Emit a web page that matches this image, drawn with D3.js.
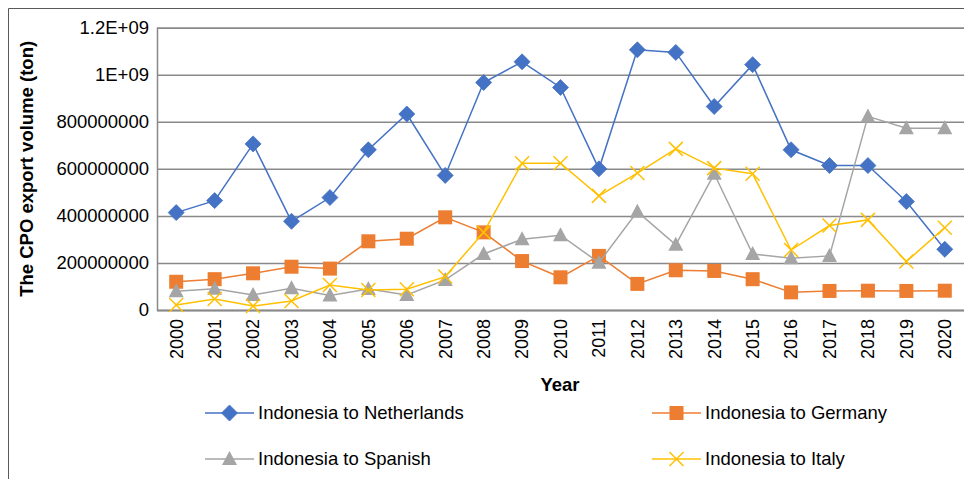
<!DOCTYPE html>
<html>
<head>
<meta charset="utf-8">
<script src="https://cdn.jsdelivr.net/npm/d3@7"></script>
<style>
  html, body { margin: 0; padding: 0; background: #fff; }
  svg { display: block; font-family: "Liberation Sans", Arial, sans-serif; }
</style>
</head>
<body>
<svg id="chart" width="964" height="479"></svg>
<script>
// CPO export volume (ton) from Indonesia, 2000-2020
const years = ["2000","2001","2002","2003","2004","2005","2006","2007","2008","2009","2010",
               "2011","2012","2013","2014","2015","2016","2017","2018","2019","2020"];

const netherlands = [414e6, 465e6, 706e6, 377e6, 478e6, 681e6, 833e6, 572e6, 967e6, 1055e6, 946e6,
                     600e6, 1106e6, 1095e6, 865e6, 1043e6, 681e6, 614e6, 614e6, 461e6, 258e6];
const germany     = [120e6, 131e6, 156e6, 184e6, 176e6, 292e6, 303e6, 394e6, 330e6, 208e6, 139e6,
                     230e6, 111e6, 169e6, 166e6, 131e6, 75e6, 81e6, 82e6, 81e6, 82e6];
const spanish     = [80e6, 90e6, 64e6, 92e6, 62e6, 89e6, 64e6, 128e6, 238e6, 301e6, 318e6,
                     201e6, 418e6, 277e6, 579e6, 238e6, 220e6, 230e6, 823e6, 773e6, 773e6];
const italy       = [21e6, 47e6, 17e6, 38e6, 106e6, 85e6, 88e6, 142e6, 330e6, 624e6, 624e6,
                     485e6, 582e6, 685e6, 603e6, 579e6, 255e6, 359e6, 383e6, 206e6, 350e6];

const yTickValues = [0, 200e6, 400e6, 600e6, 800e6, 1000e6, 1200e6];
const yTickLabels = ["0", "200000000", "400000000", "600000000", "800000000", "1E+09", "1.2E+09"];

const seriesNames  = ["Indonesia to Netherlands", "Indonesia to Germany", "Indonesia to Spanish", "Indonesia to Italy"];
const seriesColors = ["#4472C4", "#ED7D31", "#A5A5A5", "#FFC000"];
const seriesShapes = ["diamond", "square", "triangle", "cross"];
const seriesValues = [netherlands, germany, spanish, italy];

const svg = d3.select("#chart");
const plot = { left: 157, right: 964, top: 27.7, bottom: 310 };

const x = d3.scaleBand().domain(years).range([plot.left, plot.right]);
const y = d3.scaleLinear().domain([0, 1.2e9]).range([plot.bottom, plot.top]);

// outer frame
svg.append("path")
  .attr("d", "M8.5,479V8.5H964")
  .attr("fill", "none").attr("stroke", "#595959").attr("stroke-width", 1);

// horizontal gridlines + y labels
const yAxis = d3.axisLeft(y)
  .tickValues(yTickValues)
  .tickSize(-(plot.right - plot.left))
  .tickPadding(8)
  .tickFormat((d, i) => yTickLabels[i]);

const gy = svg.append("g").attr("transform", `translate(${plot.left},0)`).call(yAxis);
gy.select(".domain").attr("stroke", "#898989").attr("stroke-width", 1.5);
gy.selectAll(".tick line").attr("stroke", "#898989").attr("stroke-width", 1.5);
gy.selectAll(".tick text")
  .attr("font-size", 18.5).attr("fill", "#000")
  .attr("font-family", "Liberation Sans, Arial, sans-serif");

// x axis labels, rotated
const xAxis = d3.axisBottom(x).tickSize(0).tickPadding(0);
const gx = svg.append("g").attr("transform", `translate(0,${plot.bottom})`).call(xAxis);
gx.select(".domain").attr("stroke", "#898989").attr("stroke-width", 1.5);
gx.selectAll(".tick text")
  .attr("font-size", 18).attr("fill", "#000")
  .attr("font-family", "Liberation Sans, Arial, sans-serif")
  .attr("transform", "translate(0,9) rotate(-90)")
  .attr("text-anchor", "end")
  .attr("dy", "0.35em")
  .attr("y", 0).attr("x", 0);

// axis titles
svg.append("text")
  .attr("transform", `translate(33,${(plot.top + plot.bottom) / 2}) rotate(-90)`)
  .attr("text-anchor", "middle")
  .attr("font-size", 18.5).attr("font-weight", "bold")
  .text("The CPO export volume (ton)");

svg.append("text")
  .attr("x", 560).attr("y", 391)
  .attr("text-anchor", "middle")
  .attr("font-size", 18.5).attr("font-weight", "bold")
  .text("Year");

// marker drawing
function marker(sel, shape, color) {
  if (shape === "diamond") {
    sel.append("path").attr("d", "M0,-8L8,0L0,8L-8,0Z").attr("fill", color).attr("stroke", color).attr("stroke-width", 0.8);
  } else if (shape === "square") {
    sel.append("rect").attr("x", -7).attr("y", -7).attr("width", 14).attr("height", 14).attr("fill", color);
  } else if (shape === "triangle") {
    sel.append("path").attr("d", "M0,-8L7.5,6L-7.5,6Z").attr("fill", color);
  } else {
    sel.append("path").attr("d", "M-7,-7L7,7M-7,7L7,-7").attr("stroke", color).attr("stroke-width", 1.5).attr("fill", "none");
  }
}

const line = d3.line().x((d, i) => x(years[i]) + x.bandwidth() / 2).y(d => y(d));

seriesValues.forEach((vals, s) => {
  const g = svg.append("g");
  g.append("path")
    .datum(vals)
    .attr("d", line)
    .attr("fill", "none")
    .attr("stroke", seriesColors[s])
    .attr("stroke-width", 1.5);
  g.selectAll("g.pt")
    .data(vals)
    .join("g")
    .attr("class", "pt")
    .attr("transform", (d, i) => `translate(${x(years[i]) + x.bandwidth() / 2},${y(d)})`)
    .each(function () { marker(d3.select(this), seriesShapes[s], seriesColors[s]); });
});

// legend
const legendPos = [[205, 413], [652, 413], [205, 459], [652, 459]];
seriesNames.forEach((name, s) => {
  const [lx, ly] = legendPos[s];
  const g = svg.append("g").attr("transform", `translate(${lx},${ly})`);
  g.append("line").attr("x1", 0).attr("x2", 49).attr("y1", 0).attr("y2", 0)
    .attr("stroke", seriesColors[s]).attr("stroke-width", 1.5);
  const m = g.append("g").attr("transform", "translate(24.5,0)");
  marker(m, seriesShapes[s], seriesColors[s]);
  g.append("text").attr("x", 53).attr("y", 0).attr("dy", "0.35em")
    .attr("font-size", 18.5).text(name);
});
</script>
</body>
</html>
